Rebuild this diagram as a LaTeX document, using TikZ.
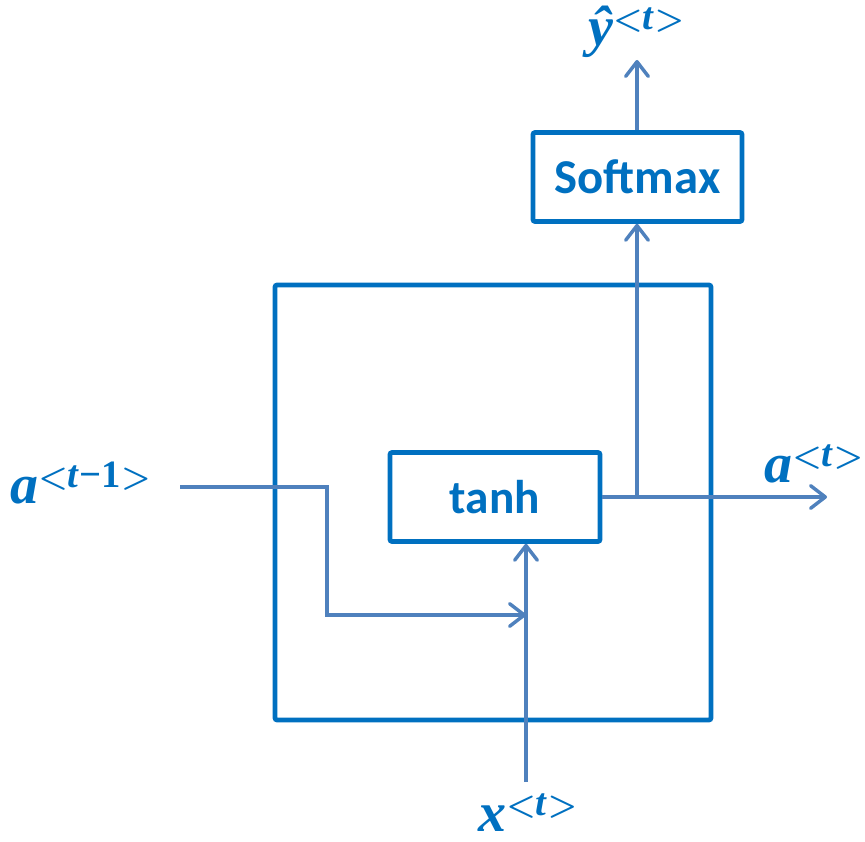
\documentclass[tikz,border=0pt]{standalone}
\usepackage{fontspec}
\setmainfont{Carlito}
\newfontfamily\labfont{Liberation Serif}
\usetikzlibrary{arrows.meta}

\definecolor{boxblue}{HTML}{0070C0}
\definecolor{linkblue}{HTML}{4F81BD}

% angle brackets of the time-step superscript
\newcommand\lbr{{\boldmath$<$}}
\newcommand\rbr{{\boldmath$>$}}
% variable with an angle-bracket superscript, e.g. a^{<t-1>}
\newcommand\seqvar[2]{{\fontsize{42}{42}\selectfont\labfont\bfseries\itshape #1}%
  \raisebox{12pt}{\fontsize{29}{29}\selectfont\labfont\bfseries \lbr\textit{t}#2\rbr}}

\tikzset{
  cellbox/.style={draw=boxblue, line width=3.5pt, rounded corners=1.5pt, inner sep=0pt},
  opbox/.style={cellbox, text=boxblue, font=\fontsize{35.5}{35.5}\selectfont\bfseries},
  link/.style={draw=linkblue, line width=2.6pt, line join=miter},
  linkarrow/.style={link, -{Straight Barb[length=11pt,width=17pt,line join=round,line cap=round]}},
  varlabel/.style={text=boxblue, inner sep=0pt, anchor=base west},
}

\begin{document}
\begin{tikzpicture}[x=0.75pt, y=-0.75pt]
  \useasboundingbox (0,0) rectangle (865,842);

  % RNN cell outline and its operations
  \node[cellbox, minimum width=436*0.75pt, minimum height=435*0.75pt] (cell) at (493,502.5) {};
  \node[opbox, minimum width=210*0.75pt, minimum height=89*0.75pt] (tanh) at (495,497) {tanh};
  \node[opbox, font=\fontsize{36.5}{36.5}\selectfont\bfseries, minimum width=209*0.75pt, minimum height=89*0.75pt] (softmax) at (637.5,177) {Softmax};

  % inputs and outputs
  \node[varlabel] (aprev) at (10,503) {\seqvar{a}{−1}};
  \node[varlabel] (anext) at (764,482) {\seqvar{a}{}};
  \node[varlabel] (xt) at (478,831) {\seqvar{x}{}};
  \node[varlabel] (yt) at (588,46) {\seqvar{\^y}{}};

  \coordinate (ain) at (180,487);
  \coordinate (bendtop) at (327,487);
  \coordinate (bendlow) at (327,615);
  \coordinate (xin) at (526,782);
  \coordinate (aout) at (827,497);
  \coordinate (split) at (637,497);
  \coordinate (yout) at (637,60);

  % connectors
  \draw[linkarrow] (xin) -- (xin |- tanh.south);
  \draw[linkarrow] (ain) -- (bendtop) -- (bendlow) -- (bendlow -| xin);
  \draw[linkarrow] (tanh.east) -- (aout);
  \draw[linkarrow] (split) -- (split |- softmax.south);
  \draw[linkarrow] (softmax.north -| split) -- (yout);
\end{tikzpicture}
\end{document}
